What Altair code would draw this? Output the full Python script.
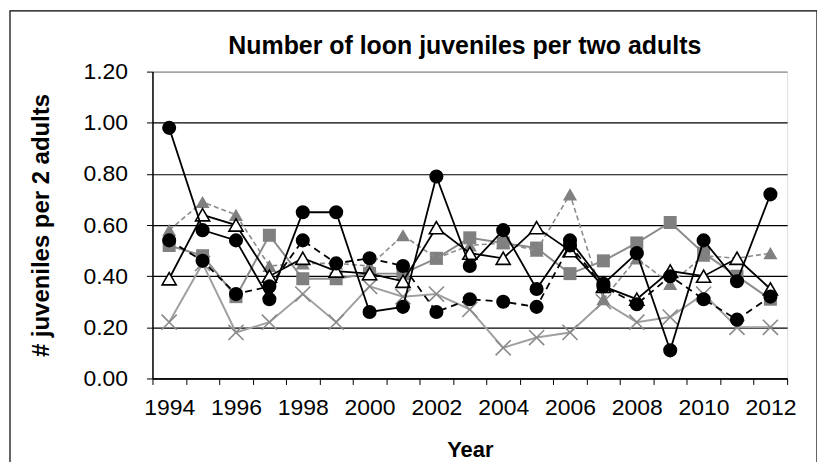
import altair as alt
import pandas as pd

years = list(range(1994, 2013))

circle_solid = [0.98, 0.58, 0.54, 0.31, 0.65, 0.65, 0.26, 0.28, 0.79, 0.44,
                0.58, 0.35, 0.54, 0.37, 0.49, 0.11, 0.54, 0.38, 0.72]
circle_dashed = [0.54, 0.46, 0.33, 0.36, 0.54, 0.45, 0.47, 0.44, 0.26, 0.31,
                 0.30, 0.28, 0.52, 0.36, 0.29, 0.40, 0.31, 0.23, 0.32]
open_triangle = [0.39, 0.64, 0.60, 0.40, 0.47, 0.42, 0.41, 0.38, 0.59, 0.49,
                 0.47, 0.59, 0.50, 0.36, 0.31, 0.42, 0.40, 0.47, 0.35]
gray_triangle = [0.58, 0.69, 0.64, 0.44, 0.45, 0.45, 0.44, 0.56, 0.47, 0.52,
                 0.53, 0.50, 0.72, 0.31, 0.47, 0.37, 0.48, 0.47, 0.49]
gray_square = [0.52, 0.48, 0.32, 0.56, 0.39, 0.39, 0.41, 0.41, 0.47, 0.55,
               0.53, 0.51, 0.41, 0.46, 0.53, 0.61, 0.49, 0.40, 0.31]
gray_cross = [0.22, 0.45, 0.18, 0.22, 0.33, 0.22, 0.36, 0.32, 0.33, 0.27,
              0.12, 0.16, 0.18, 0.30, 0.22, 0.24, 0.33, 0.20, 0.20]

y_ticks = [0.0, 0.2, 0.4, 0.6, 0.8, 1.0, 1.2]

FONT = "Liberation Sans, Arial, sans-serif"

x_enc = alt.X(
    "year:O",
    bandPosition=0.5,
    scale=alt.Scale(type="band", paddingInner=0, paddingOuter=0),
    axis=alt.Axis(
        title="Year",
        tickBand="extent",
        labelAngle=0,
        labelOverlap=False,
        labelExpr="parseInt(datum.label) % 2 == 0 ? datum.label : ''",
        labelFontSize=23,
        labelFont=FONT,
        labelColor="black",
        labelPadding=12,
        tickSize=6,
        tickColor="black",
        domainColor="black",
        domainWidth=1.5,
        titleFont=FONT,
        titleFontSize=22,
        titleFontWeight="bold",
        titleColor="black",
        titlePadding=20,
        grid=False,
    ),
)

y_enc = alt.Y(
    "value:Q",
    scale=alt.Scale(domain=[0, 1.2], nice=False, zero=True),
    axis=alt.Axis(
        title="# juveniles per 2 adults",
        values=y_ticks,
        format=".2f",
        labelFontSize=23,
        labelFont=FONT,
        labelColor="black",
        labelPadding=19,
        tickSize=6,
        tickColor="black",
        domainColor="black",
        domainWidth=1.5,
        grid=True,
        gridColor={"condition": {"test": "datum.value >= 1.19", "value": "#8c8c8c"},
                   "value": "black"},
        gridWidth=1.2,
        titleFont=FONT,
        titleFontSize=24,
        titleFontWeight="bold",
        titleColor="black",
        titlePadding=30,
    ),
)


def series_df(values):
    return pd.DataFrame({"year": years, "value": values})


def layer(values, line_color, dash, line_width, shape, size, fill, stroke, stroke_width, filled):
    base = alt.Chart(series_df(values))
    line_kwargs = dict(color=line_color, strokeWidth=line_width)
    if dash:
        line_kwargs["strokeDash"] = dash
    line = base.mark_line(**line_kwargs).encode(x=x_enc, y=y_enc)
    pt_kwargs = dict(shape=shape, size=size, opacity=1, strokeWidth=stroke_width, filled=filled)
    if fill:
        pt_kwargs["fill"] = fill
    if stroke:
        pt_kwargs["stroke"] = stroke
    pts = base.mark_point(**pt_kwargs).encode(x=x_enc, y=y_enc)
    return line + pts


cross_layer = layer(gray_cross, "#a0a0a0", None, 2, "M-1,-1L1,1M-1,1L1,-1", 230,
                    None, "#8a8a8a", 1.6, False)
square_layer = layer(gray_square, "#8c8c8c", None, 2, "square", 170,
                     "#808080", None, 0, True)
gtri_layer = layer(gray_triangle, "#8c8c8c", [5, 3], 1.6, "triangle-up", 200,
                   "#808080", None, 0, True)
otri_layer = layer(open_triangle, "black", None, 1.8, "triangle-up", 200,
                   "white", "black", 1.6, True)
cdash_layer = layer(circle_dashed, "black", [7, 5], 1.8, "circle", 200,
                    "black", None, 0, True)
csolid_layer = layer(circle_solid, "black", None, 1.8, "circle", 200,
                     "black", None, 0, True)

frame = alt.Chart(pd.DataFrame({"k": [0]})).mark_rect(
    fill="transparent", stroke="black", strokeWidth=1.2
).encode(
    x=alt.value(-143), x2=alt.value(667), y=alt.value(-61), y2=alt.value(520)
)

chart = alt.layer(
    frame, cross_layer, square_layer, gtri_layer, otri_layer, cdash_layer, csolid_layer
).properties(
    width=637,
    height=308,
    title=alt.TitleParams(
        "Number of loon juveniles per two adults",
        font=FONT,
        fontSize=25,
        fontWeight="bold",
        color="black",
        anchor="middle",
        baseline="alphabetic",
        offset=-69,
        dx=-5,
    ),
    autosize=alt.AutoSizeParams(type="none"),
    padding={"left": 145, "top": 63, "right": 30, "bottom": 83},
).configure_view(
    stroke="#8c8c8c", strokeWidth=1.2
).configure(background="white")

chart.save("out.html", embed_options={"renderer": "svg", "actions": False})
